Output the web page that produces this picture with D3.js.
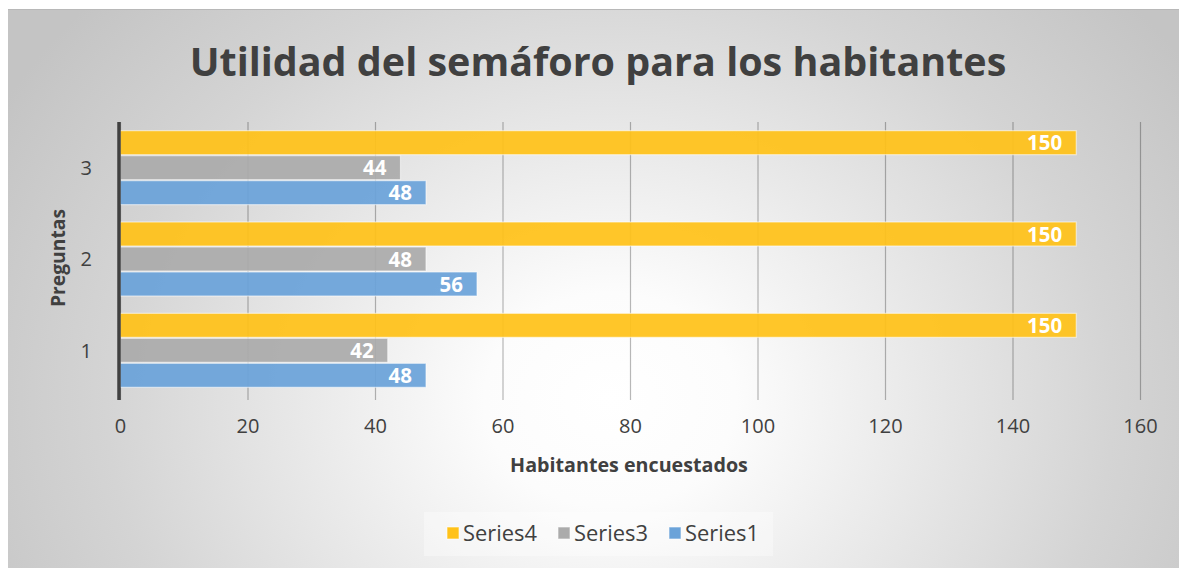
<!DOCTYPE html>
<html>
<head>
<meta charset="utf-8">
<script src="https://cdn.jsdelivr.net/npm/d3@7"></script>
<style>
  html, body { margin: 0; padding: 0; background: #fff; }
  svg { display: block; }
  text { font-family: "Open Sans", "Noto Sans", sans-serif; }
</style>
</head>
<body>
<svg id="chart" width="1179" height="568"></svg>
<script>
// Chart data
const categories = ["1", "2", "3"];
const seriesNames = ["Series4", "Series3", "Series1"];
const series4 = [150, 150, 150];
const series3 = [42, 48, 44];
const series1 = [48, 56, 48];
const xTicks = [0, 20, 40, 60, 80, 100, 120, 140, 160];
const titleText = "Utilidad del semáforo para los habitantes";
const xTitle = "Habitantes encuestados";
const yTitle = "Preguntas";

const seriesValues = { Series4: series4, Series3: series3, Series1: series1 };
const colors = { Series4: "#FFC219", Series3: "#ABABAB", Series1: "#6BA3D9" };

const W = 1179, H = 568;
const svg = d3.select("#chart");

// Background with radial shading
const defs = svg.append("defs");
const rg = defs.append("radialGradient")
  .attr("id", "bg")
  .attr("gradientUnits", "userSpaceOnUse")
  .attr("cx", 610).attr("cy", 400).attr("r", 700)
  .attr("gradientTransform", "translate(610,400) scale(1,0.85) translate(-610,-400)");
rg.append("stop").attr("offset", "0").attr("stop-color", "#ffffff");
rg.append("stop").attr("offset", "0.18").attr("stop-color", "#fcfcfc");
rg.append("stop").attr("offset", "0.72").attr("stop-color", "#d4d4d4");
rg.append("stop").attr("offset", "1").attr("stop-color", "#c4c4c4");

svg.append("rect").attr("x", 8).attr("y", 9).attr("width", W - 8).attr("height", H - 9)
  .attr("fill", "url(#bg)");
svg.append("line").attr("x1", 8).attr("x2", W).attr("y1", 9.5).attr("y2", 9.5)
  .attr("stroke", "#b8b8b8").attr("stroke-width", 1);

// Plot area
const plot = { left: 120, right: 1140, top: 122, bottom: 396 };

const x = d3.scaleLinear().domain([0, 160]).range([plot.left, plot.right]);
const y = d3.scaleBand().domain(categories.slice().reverse())
  .range([plot.top, plot.bottom]).paddingInner(0.19).paddingOuter(0.095);
const ySub = d3.scaleBand().domain(seriesNames).range([0, y.bandwidth()]).paddingInner(0.04);

// Vertical gridlines and x tick labels
const xAxis = d3.axisBottom(x).tickValues(xTicks).tickSize(-(plot.bottom - plot.top) - 4).tickPadding(19).tickFormat(d3.format("d"));
const gx = svg.append("g").attr("transform", `translate(0,${plot.bottom + 4})`).call(xAxis);
gx.select(".domain").remove();
gx.selectAll(".tick line").attr("stroke", "#000").attr("stroke-opacity", 0.28).attr("stroke-width", 1.2)
  .attr("y2", -(plot.bottom - plot.top) - 4);
gx.selectAll(".tick text").attr("fill", "#404040").attr("font-size", 20).attr("dy", "0.71em");

// Bars
const groups = svg.append("g").selectAll("g").data(categories).join("g")
  .attr("transform", d => `translate(0,${y(d)})`);

groups.each(function(cat, i) {
  const g = d3.select(this);
  seriesNames.forEach(name => {
    const v = seriesValues[name][i];
    g.append("rect")
      .attr("x", x(0))
      .attr("y", ySub(name))
      .attr("width", x(v) - x(0))
      .attr("height", ySub.bandwidth())
      .attr("fill", colors[name])
      .attr("fill-opacity", 0.93)
      .attr("stroke", "#ffffff")
      .attr("stroke-opacity", 0.55)
      .attr("stroke-width", 1.2);
    g.append("text")
      .attr("x", x(v) - 14)
      .attr("y", ySub(name) + ySub.bandwidth() / 2)
      .attr("dy", "0.37em")
      .attr("text-anchor", "end")
      .attr("fill", "#ffffff")
      .attr("font-size", 20.5)
      .attr("font-weight", "bold")
      .text(v);
  });
});

// Left axis
const yAxis = d3.axisLeft(y).tickSize(0).tickPadding(28);
const gy = svg.append("g").attr("transform", `translate(${plot.left},0)`).call(yAxis);
gy.select(".domain").remove();
gy.selectAll(".tick text").attr("fill", "#404040").attr("font-size", 20).attr("dy", "0.36em");
svg.append("line").attr("x1", plot.left - 1).attr("x2", plot.left - 1)
  .attr("y1", plot.top).attr("y2", plot.bottom + 4)
  .attr("stroke", "#404040").attr("stroke-width", 3.5);

// Title
const title = svg.append("text")
  .attr("x", 598).attr("y", 76)
  .attr("text-anchor", "middle")
  .attr("fill", "#404040")
  .attr("font-size", 42)
  .attr("font-weight", "bold")
  .text(titleText);
const tw = title.node().getComputedTextLength();
title.attr("font-size", 42 * 817 / tw);

// Axis titles
const xt = svg.append("text")
  .attr("x", 629).attr("y", 472)
  .attr("text-anchor", "middle")
  .attr("fill", "#404040")
  .attr("font-size", 18)
  .attr("font-weight", "bold")
  .text(xTitle);
xt.attr("font-size", 18 * 238 / xt.node().getComputedTextLength());

const yt = svg.append("text")
  .attr("transform", "translate(65,258) rotate(-90)")
  .attr("text-anchor", "middle")
  .attr("fill", "#404040")
  .attr("font-size", 18)
  .attr("font-weight", "bold")
  .text(yTitle);
yt.attr("font-size", 18 * 98 / yt.node().getComputedTextLength());

// Legend
svg.append("rect").attr("x", 424).attr("y", 512).attr("width", 349).attr("height", 44)
  .attr("fill", "#ffffff").attr("fill-opacity", 0.35);
const legendX = [447, 558, 669];
const lg = svg.append("g").selectAll("g").data(seriesNames).join("g")
  .attr("transform", (d, i) => `translate(${legendX[i]},527)`);
lg.append("rect").attr("width", 12).attr("height", 12)
  .attr("fill", d => colors[d]).attr("stroke", "#fff").attr("stroke-opacity", 0.6);
lg.append("text").attr("x", 16).attr("y", 6).attr("dy", "0.36em")
  .attr("fill", "#404040").attr("font-size", 18)
  .text(d => d)
  .each(function() {
    const w = this.getComputedTextLength();
    d3.select(this).attr("font-size", 18 * 74 / w);
  });
</script>
</body>
</html>
